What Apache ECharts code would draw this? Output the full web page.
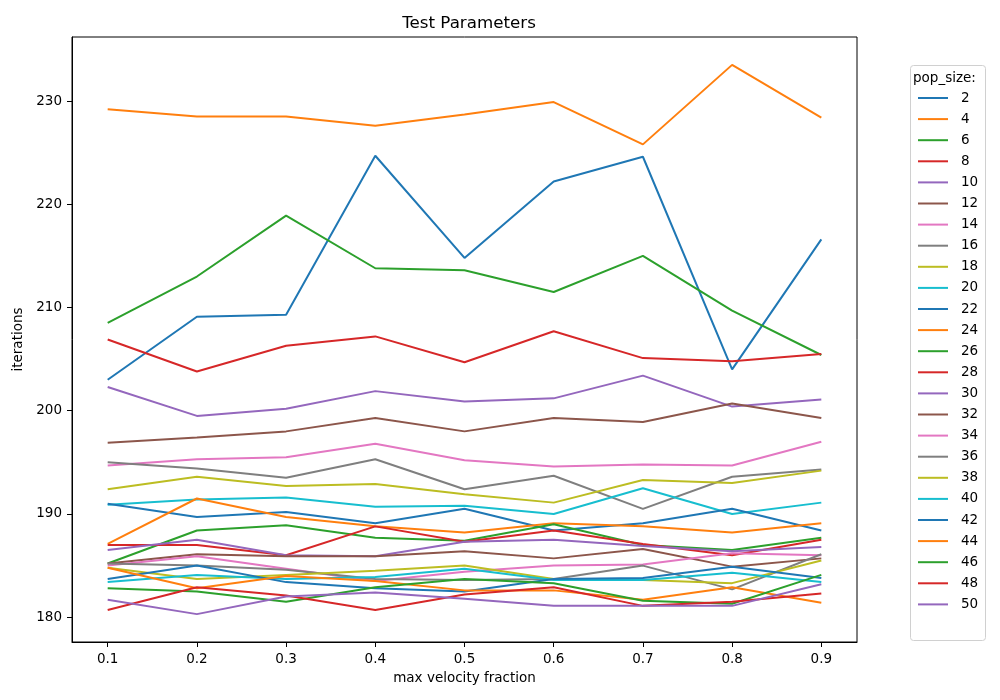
<!DOCTYPE html>
<html>
<head>
<meta charset="utf-8">
<title>Test Parameters</title>
<script src="https://cdn.jsdelivr.net/npm/echarts@6/dist/echarts.min.js"></script>
<style>
  html, body { margin: 0; padding: 0; background: #fff; }
  #chart { width: 1000px; height: 700px; }
</style>
</head>
<body>
<div id="chart"></div>
<script>
// x values and tick labels
var fractions = [0.1, 0.2, 0.3, 0.4, 0.5, 0.6, 0.7, 0.8, 0.9];
var yTicks = [180, 190, 200, 210, 220, 230];
var popSizes = [2, 4, 6, 8, 10, 12, 14, 16, 18, 20, 22, 24, 26, 28, 30, 32, 34, 36, 38, 40, 42, 44, 46, 48, 50];

// iterations per pop_size
var p2 = [203.0, 209.1, 209.3, 224.7, 214.8, 222.2, 224.6, 204.0, 216.6];
var p4 = [229.2, 228.5, 228.5, 227.6, 228.7, 229.9, 225.8, 233.5, 228.4];
var p6 = [208.5, 213.0, 218.9, 213.8, 213.6, 211.5, 215.0, 209.7, 205.4];
var p8 = [206.9, 203.8, 206.3, 207.2, 204.7, 207.7, 205.1, 204.8, 205.5];
var p10 = [202.3, 199.5, 200.2, 201.9, 200.9, 201.2, 203.4, 200.4, 201.1];
var p12 = [196.9, 197.4, 198.0, 199.3, 198.0, 199.3, 198.9, 200.7, 199.3];
var p14 = [194.7, 195.3, 195.5, 196.8, 195.2, 194.6, 194.8, 194.7, 197.0];
var p16 = [195.0, 194.4, 193.5, 195.3, 192.4, 193.7, 190.5, 193.6, 194.3];
var p18 = [192.4, 193.6, 192.7, 192.9, 191.9, 191.1, 193.3, 193.0, 194.2];
var p20 = [190.9, 191.4, 191.6, 190.7, 190.8, 190.0, 192.5, 190.0, 191.1];
var p22 = [191.0, 189.7, 190.2, 189.1, 190.5, 188.4, 189.1, 190.5, 188.4];
var p24 = [187.1, 191.5, 189.7, 188.8, 188.2, 189.1, 188.8, 188.2, 189.1];
var p26 = [185.2, 188.4, 188.9, 187.7, 187.4, 189.0, 187.0, 186.5, 187.7];
var p28 = [187.0, 187.0, 186.0, 188.8, 187.3, 188.4, 187.1, 186.0, 187.5];
var p30 = [186.5, 187.5, 186.0, 185.9, 187.3, 187.5, 186.9, 186.4, 186.8];
var p32 = [185.2, 186.1, 185.9, 185.9, 186.4, 185.7, 186.6, 184.9, 185.7];
var p34 = [185.0, 185.9, 184.7, 183.5, 184.4, 185.0, 185.1, 186.2, 186.0];
var p36 = [185.2, 185.0, 184.6, 183.7, 183.6, 183.7, 185.0, 182.7, 186.1];
var p38 = [184.8, 183.7, 184.1, 184.5, 185.0, 183.7, 183.6, 183.3, 185.5];
var p40 = [183.4, 184.1, 183.7, 183.9, 184.7, 183.6, 183.6, 184.3, 183.4];
var p42 = [183.7, 185.0, 183.4, 182.8, 182.5, 183.7, 183.8, 184.9, 183.8];
var p44 = [184.8, 182.8, 184.0, 183.5, 182.6, 182.6, 181.7, 182.9, 181.4];
var p46 = [182.8, 182.5, 181.5, 182.9, 183.7, 183.3, 181.6, 181.3, 184.1];
var p48 = [180.7, 182.9, 182.1, 180.7, 182.2, 182.9, 181.1, 181.5, 182.3];
var p50 = [181.7, 180.3, 182.0, 182.4, 181.8, 181.1, 181.1, 181.1, 183.2];

var iterations = [p2, p4, p6, p8, p10, p12, p14, p16, p18, p20, p22, p24, p26,
  p28, p30, p32, p34, p36, p38, p40, p42, p44, p46, p48, p50];

// matplotlib tab10
var colors = ["#1f77b4", "#ff7f0e", "#2ca02c", "#d62728", "#9467bd",
  "#8c564b", "#e377c2", "#7f7f7f", "#bcbd22", "#17becf"];

var font = "DejaVu Sans";
var chart = echarts.init(document.getElementById("chart"), null, { renderer: "canvas" });

var series = popSizes.map(function (size, i) {
  return {
    name: String(size),
    type: "line",
    data: fractions.map(function (x, j) { return [x, iterations[i][j]]; }),
    showSymbol: false,
    symbol: "none",
    animation: false,
    lineStyle: { width: 2, color: colors[i % colors.length] },
    itemStyle: { color: colors[i % colors.length] }
  };
});

var option = {
  backgroundColor: "#fff",
  animation: false,
  title: {
    text: "Test Parameters",
    left: 464,
    top: 10,
    textAlign: "center",
    textStyle: { fontFamily: font, fontSize: 16.7, fontWeight: "normal", color: "#000" }
  },
  grid: {
    left: 72, right: 143, top: 37, bottom: 58,
    show: true, borderColor: "#000", borderWidth: 1, backgroundColor: "transparent"
  },
  legend: {
    orient: "vertical",
    left: 918,
    top: 91,
    icon: "rect",
    itemWidth: 30,
    itemHeight: 2,
    itemGap: 7.1,
    padding: 0,
    textStyle: { fontFamily: font, fontSize: 13.5, color: "#000", lineHeight: 14, padding: [0, 0, 0, 8] },
    data: popSizes.map(String)
  },
  graphic: [
    {
      type: "rect",
      left: 910, top: 65,
      shape: { width: 75, height: 575, r: 3 },
      style: { fill: "rgba(255,255,255,0.8)", stroke: "#d0d0d0", lineWidth: 1 },
      z: -1
    },
    {
      type: "text",
      left: 913, top: 71,
      style: { text: "pop_size:", font: "13.5px 'DejaVu Sans'", fill: "#000" }
    }
  ],
  xAxis: {
    type: "value",
    min: 0.06,
    max: 0.94,
    name: "max velocity fraction",
    nameLocation: "middle",
    nameGap: 29,
    nameTextStyle: { fontFamily: font, fontSize: 13.5, color: "#000" },
    splitLine: { show: false },
    axisLine: { show: true, lineStyle: { color: "#000", width: 1 } },
    axisTick: { show: true, length: 5, lineStyle: { color: "#000" }, customValues: fractions },
    axisLabel: {
      fontFamily: font, fontSize: 13.5, color: "#000", margin: 10,
      customValues: fractions,
      formatter: function (v) { return v.toFixed(1); }
    }
  },
  yAxis: {
    type: "value",
    min: 177.6,
    max: 236.2,
    name: "iterations",
    nameLocation: "middle",
    nameGap: 45,
    nameTextStyle: { fontFamily: font, fontSize: 13.5, color: "#000" },
    splitLine: { show: false },
    axisLine: { show: true, lineStyle: { color: "#000", width: 1 } },
    axisTick: { show: true, length: 5, lineStyle: { color: "#000" }, customValues: yTicks },
    axisLabel: {
      fontFamily: font, fontSize: 13.5, color: "#000", margin: 10,
      customValues: yTicks
    }
  },
  series: series
};

chart.setOption(option);
</script>
</body>
</html>
